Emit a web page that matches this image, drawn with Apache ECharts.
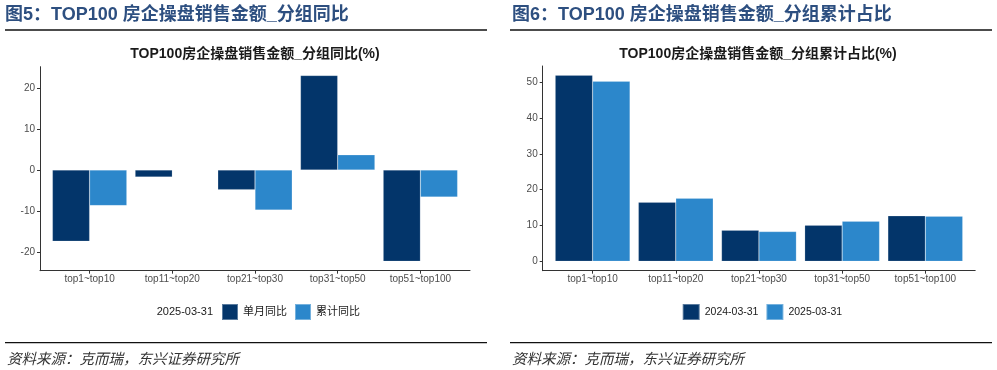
<!DOCTYPE html>
<html><head><meta charset="utf-8">
<script src="https://cdn.jsdelivr.net/npm/echarts@6/dist/echarts.min.js"></script>
<style>html,body{margin:0;padding:0;background:#fff}#c{width:997px;height:370px}</style>
</head><body><div id="c"></div>
<script>
// ---- data ----
const categories = ['top1~top10', 'top11~top20', 'top21~top30', 'top31~top50', 'top51~top100'];
const catPositions = [1, 2, 3, 4, 5];
const leftMonthly = [-17.4, -1.7, -4.8, 23.1, -22.3];     // 单月同比
const leftCumulative = [-8.7, 0, -9.8, 3.7, -6.6];        // 累计同比
const rightPrev = [52.0, 16.5, 8.7, 10.1, 12.7];          // 2024-03-31
const rightCurr = [50.3, 17.6, 8.3, 11.2, 12.6];          // 2025-03-31
const leftTicks = [-20, -10, 0, 10, 20];
const rightTicks = [0, 10, 20, 30, 40, 50];

const DARK = '#03356A', LIGHT = '#2C87CB';
const LATIN = '"Liberation Sans", "Noto Sans CJK SC", sans-serif';

function pairs(vals) { return vals.map((v, i) => [catPositions[i], v]); }

function xAxisCfg(gi) {
  return {
    gridIndex: gi, type: 'value', min: 0.4, max: 5.6,
    splitLine: { show: false },
    axisLine: { show: true, onZero: false, lineStyle: { color: '#333', width: 1 } },
    axisTick: { show: true, customValues: catPositions, length: 3, lineStyle: { color: '#333' } },
    axisLabel: { customValues: catPositions, formatter: v => categories[Math.round(v) - 1],
      fontSize: 10, color: '#4d4d4d', margin: 4, fontFamily: LATIN }
  };
}
function yAxisCfg(gi, min, max, ticks) {
  return {
    gridIndex: gi, type: 'value', min: min, max: max,
    splitLine: { show: false },
    axisLine: { show: true, onZero: false, lineStyle: { color: '#333', width: 1 } },
    axisTick: { show: true, customValues: ticks, length: 3, lineStyle: { color: '#333' } },
    axisLabel: { customValues: ticks, fontSize: 10, color: '#4d4d4d', margin: 5, fontFamily: LATIN }
  };
}
function barSeries(name, vals, color, gi) {
  return {
    type: 'bar', name: name, xAxisIndex: gi, yAxisIndex: gi, data: pairs(vals),
    barGap: '0%', barCategoryGap: '10%',
    itemStyle: { color: color, borderColor: 'rgba(255,255,255,0.35)', borderWidth: 0.5 },
    emphasis: { disabled: true }, animation: false
  };
}
function txt(x, y, text, font, fill, align) {
  return { type: 'text', x: x, y: y, silent: true,
    style: { text: text, font: font, fill: fill, textAlign: align || 'left', align: align || 'left',
      textVerticalAlign: 'middle', verticalAlign: 'middle' } };
}
function hline(x1, x2, y) {
  return { type: 'line', silent: true, shape: { x1: x1, y1: y, x2: x2, y2: y },
    style: { stroke: '#111', lineWidth: 1.3 } };
}

const chart = echarts.init(document.getElementById('c'), null, { renderer: 'canvas' });
chart.setOption({
  animation: false,
  backgroundColor: '#fff',
  grid: [
    { left: 40, right: 997 - 470, top: 66.7, bottom: 370 - 270.7 },
    { left: 542.7, right: 997 - 975.2, top: 66, bottom: 370 - 270.7 }
  ],
  xAxis: [xAxisCfg(0), xAxisCfg(1)],
  yAxis: [yAxisCfg(0, -24.6, 25.24, leftTicks), yAxisCfg(1, -2.63, 54.55, rightTicks)],
  legend: [
    { data: ['单月同比', '累计同比'], left: 221, top: 303, padding: 0, itemWidth: 16, itemHeight: 16,
      itemGap: 7, icon: 'rect', selectedMode: false,
      textStyle: { fontSize: 11, color: '#1a1a1a', fontFamily: LATIN } },
    { data: ['2024-03-31', '2025-03-31'], left: 681.7, top: 303, padding: 0, itemWidth: 17, itemHeight: 16,
      itemGap: 7, icon: 'rect', selectedMode: false,
      textStyle: { fontSize: 10.5, color: '#1a1a1a', fontFamily: LATIN } }
  ],
  series: [
    barSeries('单月同比', leftMonthly, DARK, 0),
    barSeries('累计同比', leftCumulative, LIGHT, 0),
    barSeries('2024-03-31', rightPrev, DARK, 1),
    barSeries('2025-03-31', rightCurr, LIGHT, 1)
  ],
  graphic: { elements: [
    txt(5, 15, '图5：TOP100 房企操盘销售金额_分组同比', 'bold 18px ' + LATIN, '#2d4f80'),
    txt(512, 15, '图6：TOP100 房企操盘销售金额_分组累计占比', 'bold 18px ' + LATIN, '#2d4f80'),
    hline(5, 487, 30), hline(510, 992, 30),
    txt(255, 54, 'TOP100房企操盘销售金额_分组同比(%)', 'bold 14px ' + LATIN, '#1a1a1a', 'center'),
    txt(758, 54, 'TOP100房企操盘销售金额_分组累计占比(%)', 'bold 14px ' + LATIN, '#1a1a1a', 'center'),
    txt(213, 311.5, '2025-03-31', '11px ' + LATIN, '#1a1a1a', 'right'),
    hline(5, 487, 342.7), hline(510, 992, 342.7),
    txt(7, 358.5, '资料来源：克而瑞，东兴证券研究所', 'italic 14.5px "Noto Sans CJK SC", sans-serif', '#333'),
    txt(512, 358.5, '资料来源：克而瑞，东兴证券研究所', 'italic 14.5px "Noto Sans CJK SC", sans-serif', '#333')
  ] }
});
</script></body></html>
